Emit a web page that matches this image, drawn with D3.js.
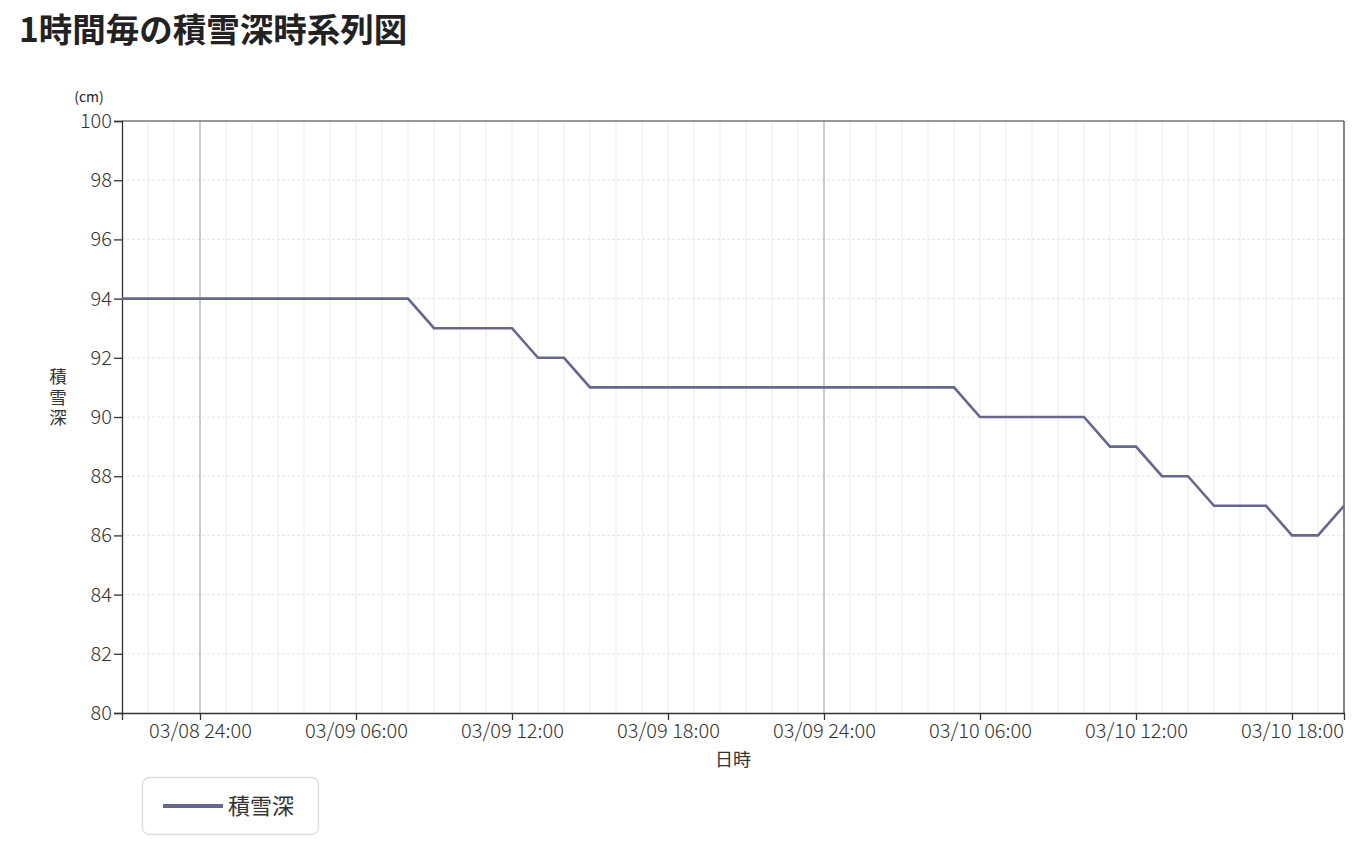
<!DOCTYPE html>
<html><head><meta charset="utf-8">
<script src="https://cdn.jsdelivr.net/npm/d3@7"></script>
<style>
body{margin:0;background:#fff;font-family:"Noto Sans CJK JP","Noto Sans",sans-serif;}
</style></head>
<body><svg id="c" width="1363" height="849"></svg>
<script>
const title = "1時間毎の積雪深時系列図";
const seriesName = "積雪深";
const startTime = "2000-03-08T21:00";
const endTime = "2000-03-10T20:00";
const snowDepth = [94,94,94,94,94,94,94,94,94,94,94,94,
  93,93,93,93,92,92,
  91,91,91,91,91,91,91,91,91,91,91,91,91,91,91,
  90,90,90,90,90,89,89,88,88,87,87,87,86,86,87];
const xTickTimes = ["2000-03-09T00:00","2000-03-09T06:00","2000-03-09T12:00","2000-03-09T18:00","2000-03-10T00:00","2000-03-10T06:00","2000-03-10T12:00","2000-03-10T18:00"];
const xTickLabels = ["03/08 24:00","03/09 06:00","03/09 12:00","03/09 18:00","03/09 24:00","03/10 06:00","03/10 12:00","03/10 18:00"];
const yTicks = [80,82,84,86,88,90,92,94,96,98,100];

const svg = d3.select("#c");
const F = "'Noto Sans CJK JP',sans-serif";
const m = {l:122, r:1344, t:121, b:713};
const t0 = new Date(startTime), t1 = new Date(endTime);
const times = d3.timeHour.range(t0, d3.timeHour.offset(t1,1));
const x = d3.scaleTime().domain([t0,t1]).range([m.l,m.r]);
const y = d3.scaleLinear().domain([80,100]).range([m.b,m.t]);

svg.append("text").attr("x",19).attr("y",42).attr("font-size",33.5).attr("font-weight","bold").attr("fill","#222").attr("font-family",F).text(title);

// grid
const g = svg.append("g");
g.selectAll("line.hg").data(yTicks.slice(1,-1)).join("line")
  .attr("x1",m.l).attr("x2",m.r).attr("y1",d=>y(d)).attr("y2",d=>y(d))
  .attr("stroke","#e4e4e4").attr("stroke-dasharray","3,2");
g.selectAll("line.vg").data(times.slice(1,-1)).join("line")
  .attr("x1",d=>x(d)).attr("x2",d=>x(d)).attr("y1",m.t).attr("y2",m.b)
  .attr("stroke",d=>d.getHours()===0?"#999":"#ebebeb").attr("stroke-width",1);

// frame top/right
svg.append("line").attr("x1",m.l).attr("x2",m.r).attr("y1",m.t).attr("y2",m.t).attr("stroke","#333").attr("stroke-width",1.2);
svg.append("line").attr("x1",m.r).attr("x2",m.r).attr("y1",m.t).attr("y2",m.b).attr("stroke","#333").attr("stroke-width",1.2);

// axes
const xa = svg.append("g").attr("transform",`translate(0,${m.b})`)
  .call(d3.axisBottom(x).tickValues(xTickTimes.map(s=>new Date(s))).tickFormat((d,i)=>xTickLabels[i]).tickSize(7).tickPadding(4));
const ya = svg.append("g").attr("transform",`translate(${m.l},0)`)
  .call(d3.axisLeft(y).tickValues(yTicks).tickSize(8).tickPadding(2));
[xa,ya].forEach(a=>{
  a.selectAll("path,line").attr("stroke","#333").attr("stroke-width",1.3);
  a.selectAll("text").attr("fill","#333").attr("font-size",20).attr("font-weight",300).attr("font-family",F);
});

svg.append("text").attr("x",89).attr("y",102).attr("text-anchor","middle").attr("font-size",14).attr("fill","#222").attr("font-family",F).text("(cm)");
svg.append("text").attr("x",58).attr("y",368).attr("writing-mode","tb").attr("letter-spacing",3).attr("font-size",17.5).attr("fill","#333").attr("font-family",F).text(seriesName);
svg.append("text").attr("x",733).attr("y",766).attr("text-anchor","middle").attr("font-size",18).attr("fill","#333").attr("font-family",F).text("日時");

// line
const line = d3.line().x((d,i)=>x(times[i])).y(d=>y(d));
svg.append("path").datum(snowDepth).attr("d",line).attr("fill","none").attr("stroke","#66668f").attr("stroke-width",2.6);

// legend
svg.append("rect").attr("x",142.5).attr("y",777.5).attr("width",176).attr("height",57).attr("rx",7).attr("fill","#fff").attr("stroke","#ddd").attr("stroke-width",1.3);
svg.append("line").attr("x1",163).attr("x2",223).attr("y1",806).attr("y2",806).attr("stroke","#66668f").attr("stroke-width",4);
svg.append("text").attr("x",228).attr("y",814).attr("font-size",22).attr("fill","#333").attr("font-family",F).text(seriesName);
</script></body></html>
